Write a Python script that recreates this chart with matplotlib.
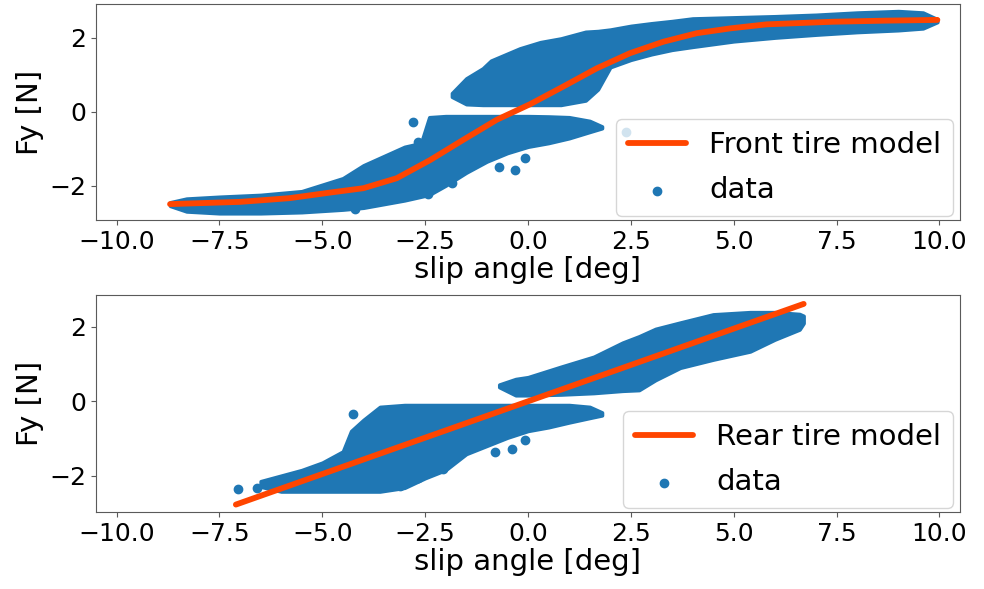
import matplotlib
matplotlib.use("Agg")
import matplotlib.pyplot as plt

BLUE = "#1f77b4"
RED = "#ff4500"
SPINE = "#5a5a5a"

# ---------------- Front tire (top panel) ----------------
front_model_x = [-8.7, -7.0, -5.8, -4.82, -4.0, -3.19, -2.38, -1.57, -0.76, 0.05, 0.86,
                 1.67, 2.48, 3.29, 4.10, 4.91, 5.8, 7.4, 8.7, 9.95]
front_model_y = [-2.5, -2.44, -2.34, -2.19, -2.07, -1.80, -1.31, -0.76, -0.22, 0.2, 0.68,
                 1.17, 1.58, 1.89, 2.12, 2.25, 2.36, 2.43, 2.46, 2.48]

# lower branch of front data cloud (envelope)
front_lo_x = [-8.7, -8.3, -7.5, -6.5, -5.5, -4.5, -4.0, -3.5, -3.0, -2.6, -2.4, -2.0,
              -1.5, -1.0, -0.5, 0.0, 0.5, 1.0, 1.5, 1.8]
front_lo_min = [-2.55, -2.7, -2.75, -2.75, -2.72, -2.65, -2.6, -2.5, -2.4, -2.3, -2.25, -2.0,
                -1.65, -1.35, -1.12, -0.95, -0.85, -0.72, -0.55, -0.45]
front_lo_max = [-2.45, -2.35, -2.3, -2.25, -2.15, -1.8, -1.45, -1.2, -0.95, -0.85, -0.15, -0.12,
                -0.12, -0.12, -0.12, -0.12, -0.13, -0.15, -0.25, -0.4]

# upper branch of front data cloud (envelope)
front_hi_x = [-1.85, -1.5, -1.1, -0.9, -0.2, 0.3, 0.8, 1.4, 1.7, 2.0, 2.5, 3.0, 3.5, 4.0,
              5.0, 6.0, 7.0, 8.0, 9.0, 9.6, 9.95]
front_hi_min = [0.4, 0.2, 0.18, 0.18, 0.18, 0.18, 0.18, 0.3, 0.6, 1.2, 1.4, 1.55, 1.67, 1.75,
                1.9, 2.0, 2.08, 2.15, 2.2, 2.25, 2.42]
front_hi_max = [0.5, 0.9, 1.17, 1.38, 1.71, 1.88, 1.98, 2.16, 2.18, 2.22, 2.32, 2.39, 2.45, 2.52,
                2.55, 2.58, 2.62, 2.68, 2.72, 2.68, 2.5]

# isolated front data points
front_pts_x = [-2.79, -2.67, -4.2, -1.84, -2.43, -0.32, -0.07, -0.7, 2.38]
front_pts_y = [-0.27, -0.82, -2.62, -1.94, -2.24, -1.58, -1.25, -1.5, -0.54]

# ---------------- Rear tire (bottom panel) ----------------
rear_model_x = [-7.1, 6.7]
rear_model_y = [-2.78, 2.62]

rear_lo_x = [-6.5, -6.0, -5.5, -5.0, -4.5, -4.3, -4.0, -3.6, -3.0, -2.5, -2.0, -1.5,
             -1.0, -0.5, 0.0, 0.5, 1.0, 1.5, 1.8]
rear_lo_min = [-2.3, -2.43, -2.43, -2.43, -2.43, -2.43, -2.43, -2.43, -2.33, -2.07, -1.85,
               -1.42, -1.2, -0.98, -0.8, -0.7, -0.57, -0.45, -0.38]
rear_lo_max = [-2.15, -2.0, -1.85, -1.65, -1.35, -0.8, -0.5, -0.15, -0.1, -0.1, -0.1, -0.1,
               -0.1, -0.1, -0.1, -0.1, -0.1, -0.15, -0.3]

rear_hi_x = [-0.7, -0.3, 0.0, 0.8, 1.6, 2.3, 2.7, 3.1, 3.7, 4.5, 5.4, 6.0, 6.6, 6.7]
rear_hi_min = [0.38, 0.16, 0.16, 0.18, 0.22, 0.28, 0.3, 0.57, 0.9, 1.12, 1.34, 1.66, 1.93, 2.1]
rear_hi_max = [0.45, 0.6, 0.65, 0.93, 1.2, 1.58, 1.75, 1.95, 2.12, 2.34, 2.4, 2.4, 2.35, 2.3]

rear_pts_x = [-7.06, -6.58, -4.25, -3.96, -2.06, -0.8, -0.39, -0.07, -3.1, -2.67]
rear_pts_y = [-2.37, -2.34, -0.35, -0.63, -1.83, -1.36, -1.29, -1.04, -2.27, -2.06]

xticks = [-10.0, -7.5, -5.0, -2.5, 0.0, 2.5, 5.0, 7.5, 10.0]
yticks = [-2, 0, 2]

LABEL_FS = 21
TICK_FS = 18

fig = plt.figure(figsize=(9.84, 5.89), dpi=100)
ax1 = fig.add_axes([96 / 984, 1 - 220 / 589, 864 / 984, 216 / 589])
ax2 = fig.add_axes([96 / 984, 1 - 512 / 589, 864 / 984, 217 / 589])


def draw_panel(ax, mx, my, label, bands, px, py, ylim):
    line, = ax.plot(mx, my, color=RED, lw=4.2, zorder=3, solid_capstyle="round")
    for bx, bmin, bmax in bands:
        ax.fill_between(bx, bmin, bmax, color=BLUE, lw=2.5, edgecolor=BLUE,
                        joinstyle="round", zorder=2)
    sc = ax.scatter(px, py, s=36, color=BLUE, zorder=2)
    ax.set_xlim(-10.5, 10.5)
    ax.set_ylim(*ylim)
    ax.set_xticks(xticks)
    ax.set_yticks(yticks)
    ax.tick_params(labelsize=TICK_FS, color=SPINE)
    for sp in ax.spines.values():
        sp.set_color(SPINE)
    ax.set_xlabel("slip angle [deg]", fontsize=LABEL_FS, labelpad=2)
    ax.set_ylabel("Fy [N]", fontsize=LABEL_FS)
    ax.legend([line, sc], [label, "data"], loc="lower right", fontsize=LABEL_FS,
              bbox_to_anchor=((953 - 96) / 864, 4 / 216), borderaxespad=0,
              labelspacing=0.6)


draw_panel(ax1, front_model_x, front_model_y, "Front tire model",
           [(front_lo_x, front_lo_min, front_lo_max), (front_hi_x, front_hi_min, front_hi_max)],
           front_pts_x, front_pts_y, (-2.93, 2.91))
draw_panel(ax2, rear_model_x, rear_model_y, "Rear tire model",
           [(rear_lo_x, rear_lo_min, rear_lo_max), (rear_hi_x, rear_hi_min, rear_hi_max)],
           rear_pts_x, rear_pts_y, (-2.98, 2.86))

fig.savefig("out.png", dpi=100)
